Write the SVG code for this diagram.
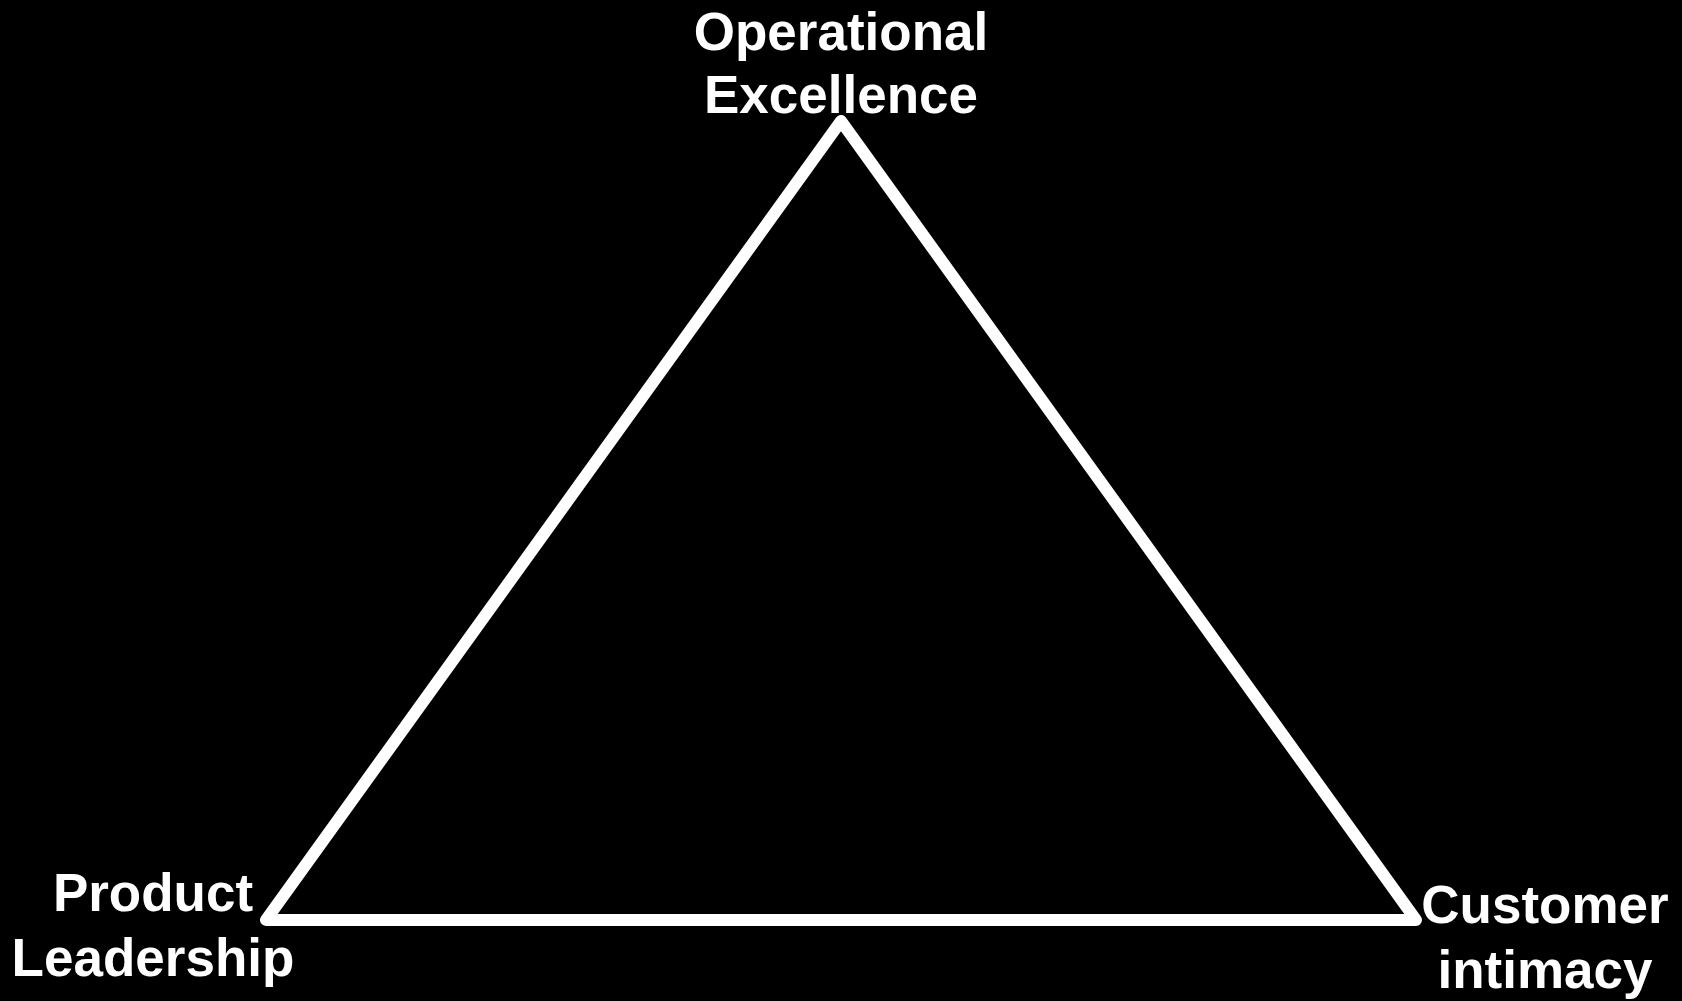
<svg xmlns="http://www.w3.org/2000/svg" width="1682" height="1001" viewBox="0 0 1682 1001">
<style>
.lbl{font-family:"Liberation Sans",Arial,sans-serif;font-weight:bold;font-size:53px;fill:#fff;text-anchor:middle}
.tri{fill:none;stroke:#fff;stroke-width:12;stroke-linejoin:round}
</style>
<rect width="1682" height="1001" fill="#000"/>
<g id="connectors">
<polygon class="tri" points="841,121 266,920 1416,920"/>
</g>
<g id="node-operational">
<text class="lbl" x="841" y="50">Operational</text>
<text class="lbl" x="841" y="113">Excellence</text>
</g>
<g id="node-product">
<text class="lbl" x="153" y="911">Product</text>
<text class="lbl" x="153" y="976">Leadership</text>
</g>
<g id="node-customer">
<text class="lbl" x="1545" y="923">Customer</text>
<text class="lbl" x="1545" y="988">intimacy</text>
</g>
</svg>
